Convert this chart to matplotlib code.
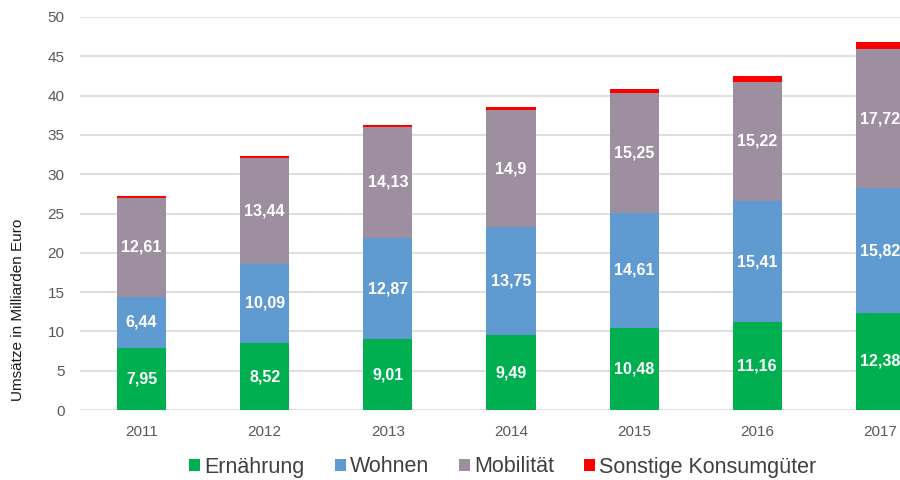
import numpy as np
import matplotlib
matplotlib.use("Agg")
import matplotlib.pyplot as plt

plt.rcParams['font.family'] = ['Liberation Sans', 'DejaVu Sans']

# Daten (Milliarden Euro)
jahre = ['2011', '2012', '2013', '2014', '2015', '2016', '2017']
ernaehrung = [7.95, 8.52, 9.01, 9.49, 10.48, 11.16, 12.38]
wohnen = [6.44, 10.09, 12.87, 13.75, 14.61, 15.41, 15.82]
mobilitaet = [12.61, 13.44, 14.13, 14.9, 15.25, 15.22, 17.72]
sonstige = [0.2, 0.3, 0.25, 0.35, 0.45, 0.7, 0.9]

serien = [
    ('Ernährung', ernaehrung, '#00B050', True),
    ('Wohnen', wohnen, '#5F9BD1', True),
    ('Mobilität', mobilitaet, '#9D8F9F', True),
    ('Sonstige Konsumgüter', sonstige, '#FF0000', False),
]

fig = plt.figure(figsize=(9, 4.8), dpi=100)
# Achse ragt rechts über den Bildrand hinaus (letzter Balken abgeschnitten)
ax = fig.add_axes([80 / 900, 70 / 480, 862 / 900, 393 / 480])

x = np.arange(len(jahre))
unten = np.zeros(len(jahre))
for name, werte, farbe, beschriften in serien:
    werte = np.array(werte)
    ax.bar(x, werte, 0.4, bottom=unten, color=farbe, label=name, zorder=3)
    if beschriften:
        for xi, b, w in zip(x, unten, werte):
            ax.text(xi, b + w / 2, f'{w:g}'.replace('.', ','), ha='center', va='center',
                    color='white', fontsize=11.5, fontweight='bold', zorder=4)
    unten += werte

ax.set_xlim(-0.5, 6.5)
ax.set_ylim(0, 50)
ax.set_yticks(np.arange(0, 51, 5))
ax.set_xticks(x)
ax.set_xticklabels(jahre)
ax.grid(axis='y', color='#D9D9D9', linewidth=1.2, zorder=0)
for s in ax.spines.values():
    s.set_visible(False)
ax.tick_params(length=0, labelsize=11, colors='#595959')
ax.tick_params(axis='x', pad=11)
ax.tick_params(axis='y', pad=11)

fig.text(18 / 900, 170 / 480, 'Umsätze in Milliarden Euro', rotation=90,
         ha='center', va='center', fontsize=11, color='#1a1a1a')

fig.legend(loc='center', bbox_to_anchor=(503 / 900, 13 / 480), ncol=4, frameon=False,
           fontsize=15.5, handlelength=0.5, handleheight=0.5, handletextpad=0.2,
           columnspacing=1.4, labelcolor='#404040')

fig.savefig('out.png', dpi=100)
